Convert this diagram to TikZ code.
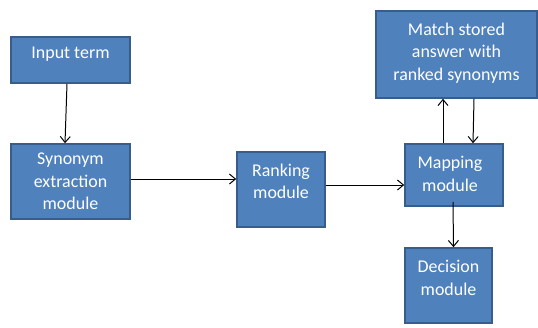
\documentclass[tikz,border=0pt]{standalone}
\usepackage{fontspec}
\setmainfont{Carlito}
\usetikzlibrary{arrows.meta,positioning}
\definecolor{boxfill}{HTML}{4F81BD}
\definecolor{boxline}{HTML}{385D8A}
\tikzset{
    % Define style for the module boxes
    modul/.style={
           rectangle,
           draw=boxline, line width=1.6pt,
           fill=boxfill,
           inner sep=0pt},
    % Define style for the text in the boxes
    modtext/.style={
           text=white,
           align=center,
           font=\fontsize{18}{22.5}\selectfont},
    % Define arrow style
    pil/.style={
           -{Straight Barb[length=6bp,width=10bp]},
           line width=1pt}
}
% name, centre, width, height, text shift, text
\newcommand*{\mnode}[6]{\node[modul, minimum width=#3, minimum height=#4,
    label={[modtext,yshift=#5]center:{#6}}] (#1) at (#2) {};}

\begin{document}
\begin{tikzpicture}[x=1bp,y=-1bp]
\useasboundingbox (0,0) rectangle (538,327);
% First the boxes, placed at coordinates
\mnode{input}{70.5,60}{119bp}{46bp}{6bp}{Input term}
\mnode{synonym}{70.5,181.5}{119bp}{75bp}{0bp}{Synonym\\extraction\\module}
\mnode{ranking}{281,189.5}{88bp}{75bp}{8bp}{Ranking\\module}
\mnode{mapping}{454,175}{98bp}{62bp}{1bp}{\hspace*{-8bp}Mapping\\\hspace*{-8bp}module}
\mnode{match}{456.5,54.5}{161bp}{87bp}{1.5bp}{Match stored\\answer with\\ranked synonyms}
\mnode{decision}{448.5,285.5}{87bp}{75bp}{7.5bp}{Decision\\module}

% Now connect the boxes
\draw[pil] ([xshift=-3.5bp]input.south) -- ([xshift=-5.5bp]synonym.north);
\draw[pil] ([yshift=2.5bp]synonym.east) -- ([yshift=2.5bp]synonym.east -| ranking.west);
\draw[pil] ([yshift=4.5bp]ranking.east) -- ([yshift=4.5bp]ranking.east -| mapping.west);
\draw[pil] ([xshift=-11bp]mapping.north) -- ([xshift=-11bp]mapping.north |- match.south);
\draw[pil] ([xshift=17.5bp]match.south) -- ([xshift=19bp]mapping.north);
\draw[pil] ([xshift=-1bp,yshift=5bp]mapping.south) -- ([xshift=5bp]decision.north);
\end{tikzpicture}
\end{document}
